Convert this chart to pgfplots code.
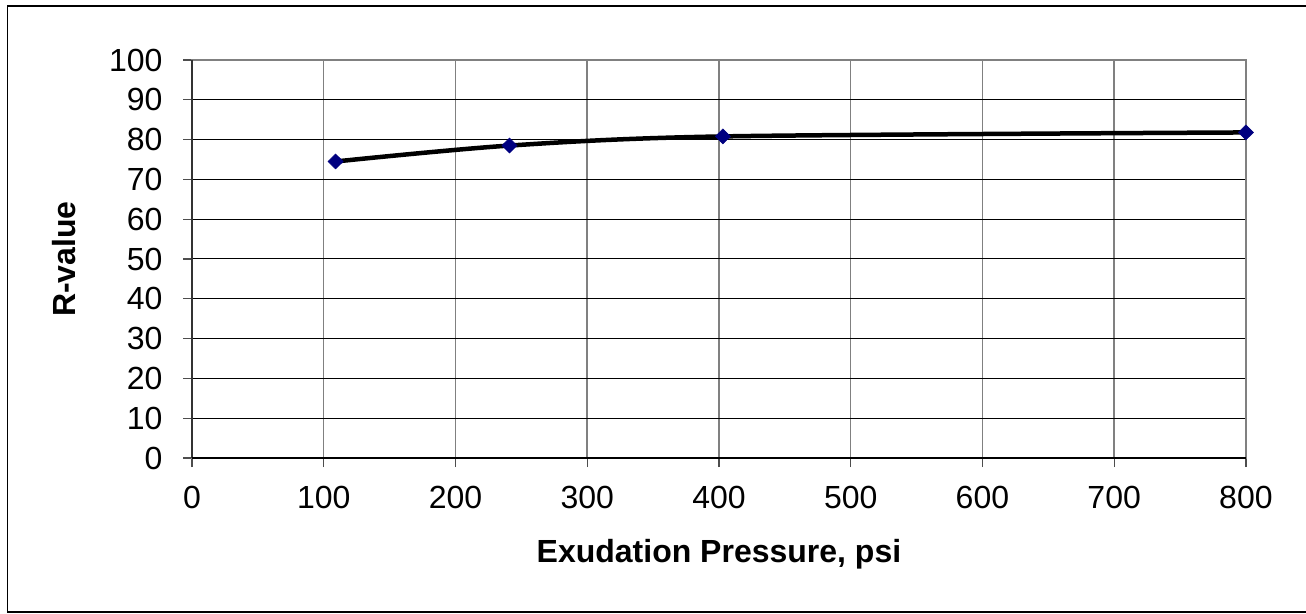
\documentclass[border=0pt]{standalone}
\usepackage{pgfplots}
\pgfplotsset{compat=1.18}
\usepackage{fontspec}
\setmainfont{Liberation Sans}

\definecolor{gridgray}{HTML}{808080}
\definecolor{marknavy}{HTML}{000080}

\begin{document}
\begin{tikzpicture}
\useasboundingbox (0bp,0bp) rectangle (1306bp,614bp);
\fill[white] (0bp,0bp) rectangle (1306bp,614bp);
\draw[black, line width=1.5bp] (7.5bp,2bp) rectangle (1310bp,608bp);
\begin{axis}[
    at={(192bp,156bp)}, anchor=south west,
    scale only axis,
    width=1054bp, height=398bp,
    xmin=0, xmax=800, ymin=0, ymax=100,
    xtick={0,100,...,800},
    ytick={0,10,...,100},
    xtick pos=bottom, ytick pos=left,
    font=\fontsize{32bp}{38bp}\selectfont,
    /pgf/number format/assume math mode=true,
    tick align=outside,
    major tick length=9bp,
    tick style={gridgray!60!black, line width=1.2bp},
    axis line style={gridgray, line width=2.5bp},
    xmajorgrids, ymajorgrids,
    x grid style={gridgray, line width=1.5bp},
    y grid style={black, line width=1bp},
    xticklabel style={anchor=base, yshift=-41bp},
    yticklabel style={anchor=east, xshift=-17bp},
    xlabel={\textbf{Exudation Pressure, psi}},
    ylabel={\textbf{R-value}},
    xlabel style={at={(axis description cs:0.5,0)}, anchor=base, yshift=-104bp},
    ylabel style={at={(axis description cs:0,0.5)}, anchor=center, yshift=127.5bp},
    clip=false,
]
\addplot[black, line width=4.5bp, smooth, tension=0.5,
    mark=diamond*, mark size=7.5bp,
    mark options={fill=marknavy, draw=marknavy, line width=0.5bp, xscale=1.35}]
    coordinates {(109,74.5) (241,78.5) (403,80.8) (800,81.8)};
\draw[gridgray!40!black, line width=2.5bp] (rel axis cs:0,0) -- (rel axis cs:0,1);
\draw[black, line width=2bp] (rel axis cs:0,0) -- (rel axis cs:1,0);
\end{axis}
\end{tikzpicture}
\end{document}
